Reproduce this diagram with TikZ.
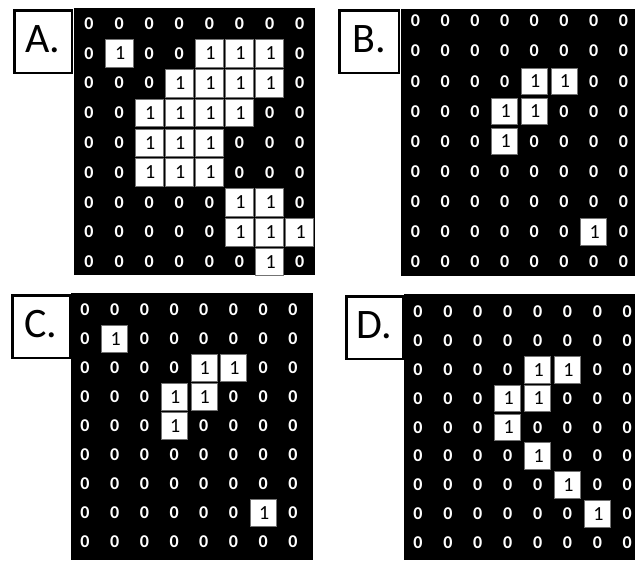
\documentclass[tikz,border=0pt]{standalone}
\usepackage{fontspec}
\setmainfont{Carlito}
\tikzset{
  zero/.style={text=white, font=\bfseries\fontsize{18}{18}\selectfont, inner sep=0pt},
  onecell/.style={draw=black!55, line width=0.6pt, fill=white, text=black,
    minimum width=26pt, minimum height=26.5pt, inner sep=0pt,
    font=\fontsize{20}{20}\selectfont},
  bigcell/.style={onecell, minimum width=28pt, minimum height=27.5pt},
  labelbox/.style={draw=black, fill=white, line width=2.5pt, inner sep=0pt,
    minimum width=57.5pt, minimum height=62.5pt, text height=27pt, text depth=6pt,
    font=\fontsize{42}{42}\selectfont},
  blackfield/.style={fill=black, draw=none}
}
\newcommand\digitgrid[7]{%
  \foreach \r/\vals in {#7}{%
    \foreach \v [count=\c from 0] in \vals {%
      \ifnum\v=1
        \node[#6] (#1-\r-\c) at ({#2+\c*#4},{#3+\r*#5}) {\hspace*{2pt}1};
      \else
        \node[zero] (#1-\r-\c) at ({#2+\c*#4},{#3+\r*#5}) {0};
      \fi
    }}}
\begin{document}
\begin{tikzpicture}[x=1pt,y=-1pt]
\useasboundingbox (0,0) rectangle (635,560);
\fill[white] (0,0) rectangle (635,560);
% Panel A
\fill[blackfield] (74,8) rectangle (315,275);
\digitgrid{A}{89}{23.5}{30.1}{29.8}{bigcell}{%
  0/{0,0,0,0,0,0,0,0},
  1/{0,1,0,0,1,1,1,0},
  2/{0,0,0,1,1,1,1,0},
  3/{0,0,1,1,1,1,0,0},
  4/{0,0,1,1,1,0,0,0},
  5/{0,0,1,1,1,0,0,0},
  6/{0,0,0,0,0,1,1,0},
  7/{0,0,0,0,0,1,1,1},
  8/{0,0,0,0,0,0,1,0}}
\node[labelbox] (A-label) at (43,41.5) {A.};
% Panel B
\fill[blackfield] (401,9) rectangle (635,276);
\digitgrid{B}{415.5}{21}{29.7}{30.1}{onecell}{%
  0/{0,0,0,0,0,0,0,0},
  1/{0,0,0,0,0,0,0,0},
  2/{0,0,0,0,1,1,0,0},
  3/{0,0,0,1,1,0,0,0},
  4/{0,0,0,1,0,0,0,0},
  5/{0,0,0,0,0,0,0,0},
  6/{0,0,0,0,0,0,0,0},
  7/{0,0,0,0,0,0,1,0},
  8/{0,0,0,0,0,0,0,0}}
\node[labelbox, minimum width=59.5pt] (B-label) at (369,41.5) {B.};
% Panel C
\fill[blackfield] (71,293) rectangle (313,560);
\digitgrid{C}{85}{310}{29.7}{29}{onecell}{%
  0/{0,0,0,0,0,0,0,0},
  1/{0,1,0,0,0,0,0,0},
  2/{0,0,0,0,1,1,0,0},
  3/{0,0,0,1,1,0,0,0},
  4/{0,0,0,1,0,0,0,0},
  5/{0,0,0,0,0,0,0,0},
  6/{0,0,0,0,0,0,0,0},
  7/{0,0,0,0,0,0,1,0},
  8/{0,0,0,0,0,0,0,0}}
\node[labelbox] (C-label) at (41,326.5) {C.};
% Panel D
\fill[blackfield] (404,294) rectangle (635,560);
\digitgrid{D}{418}{312}{29.9}{28.8}{onecell}{%
  0/{0,0,0,0,0,0,0,0},
  1/{0,0,0,0,0,0,0,0},
  2/{0,0,0,0,1,1,0,0},
  3/{0,0,0,1,1,0,0,0},
  4/{0,0,0,1,0,0,0,0},
  5/{0,0,0,0,1,0,0,0},
  6/{0,0,0,0,0,1,0,0},
  7/{0,0,0,0,0,0,1,0},
  8/{0,0,0,0,0,0,0,0}}
\node[labelbox, minimum width=56.5pt] (D-label) at (374.5,327.5) {D.};
\end{tikzpicture}
\end{document}
